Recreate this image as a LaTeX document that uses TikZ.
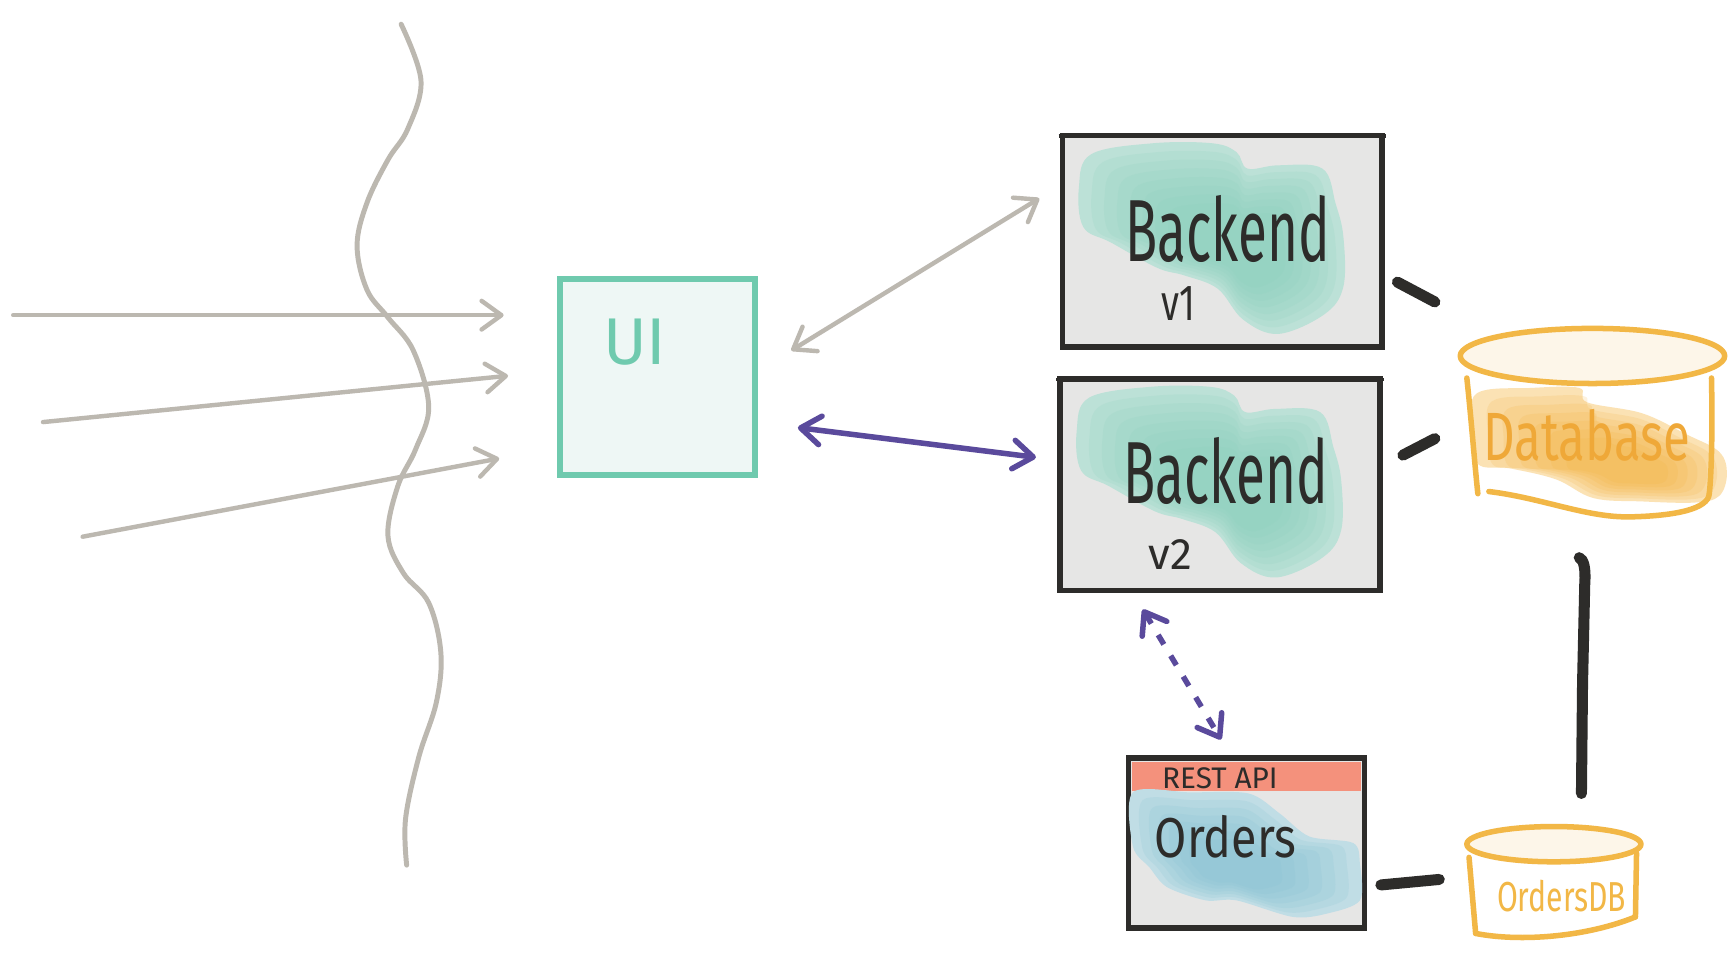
\documentclass[tikz,border=0pt]{standalone}
\usepackage{fontspec}
\usetikzlibrary{arrows.meta}
\newfontfamily\handN[FakeStretch=0.6]{Fira Sans}
\newfontfamily\handM[FakeStretch=0.72]{Fira Sans}
\newfontfamily\handO[FakeStretch=0.83]{Fira Sans}
\newfontfamily\handR{Fira Sans}
\definecolor{arrowgray}{HTML}{BCB8B0}
\definecolor{mint}{HTML}{6FCAAE}
\definecolor{uifill}{HTML}{EEF7F5}
\definecolor{purp}{HTML}{5A4A9C}
\definecolor{ink}{HTML}{2D2C2A}
\definecolor{boxfill}{HTML}{E6E6E5}
\definecolor{tealout}{HTML}{BCE1D7}
\definecolor{tealin}{HTML}{8ACFBC}
\definecolor{dborange}{HTML}{F2B746}
\definecolor{dbtext}{HTML}{EFA838}
\definecolor{cream}{HTML}{FDF6E9}
\definecolor{orout}{HTML}{FBE2B4}
\definecolor{orin}{HTML}{F4B23E}
\definecolor{salmon}{HTML}{F4917C}
\definecolor{blueout}{HTML}{C0DDE5}
\definecolor{bluein}{HTML}{84C1D3}
\tikzset{
  >={Straight Barb[length=18pt,width=26pt,round]},
  grayline/.style={draw=arrowgray, line width=4pt, line cap=round},
  purpline/.style={draw=purp, line width=5pt, line cap=round},
  inkline/.style={draw=ink, line width=10pt, line cap=round},
  dbline/.style={draw=dborange, line width=5pt, line cap=round, line join=round},
  uibox/.style={draw=mint, fill=uifill, line width=5pt, minimum width=177pt, minimum height=178pt, inner sep=0pt},
  bbox/.style={draw=ink, fill=boxfill, line width=5pt, minimum width=290pt, minimum height=192pt, inner sep=0pt},
  obox/.style={draw=ink, fill=boxfill, line width=5pt, minimum width=214pt, minimum height=154pt, inner sep=0pt},
  lbl/.style={inner sep=0pt},
  tealblob/.style={insert path={plot[smooth cycle, tension=0.6] coordinates {(26,17) (82,7) (136,7) (158,15) (168,30) (196,27) (236,30) (248,62) (255,92) (255,137) (238,162) (196,180) (164,167) (141,139) (111,127) (86,120) (44,97) (19,83) (15,47)}}},
  orblob/.style={insert path={plot[smooth cycle, tension=0.6] coordinates {(1340,357) (1390,352) (1433,352) (1440,365) (1490,375) (1530,394) (1560,410) (1567,430) (1560,450) (1538,456) (1490,455) (1446,452) (1412,435) (1370,425) (1341,421) (1336,390)}}},
  blueblob/.style={insert path={plot[smooth cycle, tension=0.5] coordinates {(1028,719) (1080,719) (1133,720) (1161,738) (1188,759) (1228,765) (1234,784) (1234,817) (1204,829) (1173,832) (1122,817) (1094,817) (1059,805) (1043,787) (1028,768)}}},
}
\begin{document}
\begin{tikzpicture}[x=1pt,y=-1pt]
\useasboundingbox (0,0) rectangle (1568,872);
\fill[white] (0,0) rectangle (1568,872);

% wavy boundary
\draw[grayline, line width=4.5pt] plot[smooth, tension=0.6] coordinates {(364,22) (382,73) (370,117) (352,145) (333,184) (324,223) (333,263) (352,288) (375,318) (389,369) (377,408) (361,441) (352,486) (366,520) (389,547) (400,592) (396,637) (380,687) (368,743) (369,785)};

% UI
\node[uibox] (ui) at (596.5,342) {};
\node[lbl, text=mint, font=\handR\fontsize{60}{60}\selectfont] (uit) at (576,310) {UI};

% incoming arrows
\coordinate (in1) at (12,286);  \coordinate (in1e) at (457,286);
\coordinate (in2) at (39,383);  \coordinate (in2e) at (461,341);
\coordinate (in3) at (75,487);  \coordinate (in3e) at (453,416);
\draw[grayline,->] (in1) -- (in1e);
\draw[grayline,->] (in2) -- (in2e);
\draw[grayline,->] (in3) -- (in3e);

% Backend boxes
\node[bbox] (b1) at (1109,219) {};
\node[bbox] (b2) at (1107,440) {};
\draw[ink, line width=3pt] ([xshift=-1pt,yshift=-3pt]b1.north west) -- ([xshift=1pt,yshift=-3pt]b1.north east);
\draw[ink, line width=3pt] ([xshift=-1pt,yshift=-3pt]b2.north west) -- ([xshift=1pt,yshift=-3pt]b2.north east);
\foreach \ox/\oy in {964/123, 962/344}{
  \begin{scope}[shift={(\ox,\oy)}]
    \fill[tealout, tealblob];
    \foreach \s in {0.92,0.84,0.76,0.68,0.6,0.52,0.44}{
      \fill[tealin, opacity=0.16, shift={(160,105)}, scale=\s, shift={(-160,-105)}, tealblob];
    }
  \end{scope}
}
\node[lbl, text=ink, font=\handN\fontsize{80}{80}\selectfont] (b1t) at (1114,208) {Backend};
\node[lbl, text=ink, font=\handM\fontsize{46}{46}\selectfont] (b1v) at (1069,275) {v1};
\node[lbl, text=ink, font=\handN\fontsize{80}{80}\selectfont] (b2t) at (1112,427) {Backend};
\node[lbl, text=ink, font=\handR\fontsize{40}{40}\selectfont] (b2v) at (1062,503) {v2};

% UI <-> Backend arrows
\coordinate (u1) at (718,318); \coordinate (b1a) at (943,180);
\draw[grayline,<->] (u1) -- (b1a);
\coordinate (u2) at (724,388); \coordinate (b2a) at (940,415);
\draw[purpline,<->] (u2) -- (b2a);

% Database
\fill[orout, orblob];
\foreach \s in {0.9,0.8,0.7,0.6,0.5,0.4}{
  \fill[orin, opacity=0.17, shift={(1478,428)}, scale=\s, shift={(-1478,-428)}, orblob];
}
\draw[dbline, fill=cream] (1445,323) ellipse [x radius=120pt, y radius=25pt];
\draw[dbline] (1331,343) .. controls (1335,380) and (1338,420) .. (1341,448);
\draw[dbline] (1553,343) .. controls (1554,390) and (1553,430) .. (1551,448);
\draw[dbline] (1351,446) .. controls (1400,452) and (1440,470) .. (1480,469) .. controls (1520,468) and (1550,462) .. (1551,448);
\node[lbl, text=dbtext, font=\handM\fontsize{62}{62}\selectfont] (db) at (1440,395) {Database};

% Backend -> Database strokes
\coordinate (c1a) at (1268,256); \coordinate (c1b) at (1302,274);
\draw[inkline] (c1a) -- (c1b);
\coordinate (c2a) at (1273,413); \coordinate (c2b) at (1302,398);
\draw[inkline] (c2a) -- (c2b);

% Orders service
\node[obox] (ord) at (1131,765) {};
\fill[salmon] (1027,691) rectangle (1235,718);
\fill[blueout, blueblob];
\foreach \s in {0.9,0.8,0.7,0.6,0.5,0.4}{
  \fill[bluein, opacity=0.17, shift={(1115,790)}, scale=\s, shift={(-1115,-790)}, blueblob];
}
\node[lbl, text=ink, font=\handR\fontsize{27}{27}\selectfont] (rest) at (1107,706) {REST API};
\node[lbl, text=ink, font=\handO\fontsize{51}{51}\selectfont] (ordt) at (1112,759) {Orders};

% Backend v2 <-> Orders dotted
\coordinate (d1) at (1037,553); \coordinate (d2) at (1108,671);
\draw[purpline, line cap=butt, dash pattern=on 10pt off 12pt, <->] (d1) -- (d2);

% OrdersDB
\draw[dbline, fill=cream] (1410,766) ellipse [x radius=79pt, y radius=16pt];
\draw[dbline] (1333,778) -- (1339,847);
\draw[dbline] (1485,774) -- (1484,832);
\draw[dbline] (1339,847) .. controls (1380,855) and (1440,850) .. (1484,832);
\node[lbl, text=dborange, font=\handM\fontsize{38}{38}\selectfont] (odb) at (1417,813) {OrdersDB};

% Orders -> OrdersDB, Database -> OrdersDB
\coordinate (c3a) at (1253,803); \coordinate (c3b) at (1306,798);
\draw[inkline] (c3a) -- (c3b);
\coordinate (v1) at (1433,506); \coordinate (v2) at (1435,720);
\draw[inkline] (v1) .. controls (1437,508) and (1439,515) .. (1438,530) -- (1436,620) -- (v2);
\end{tikzpicture}
\end{document}
